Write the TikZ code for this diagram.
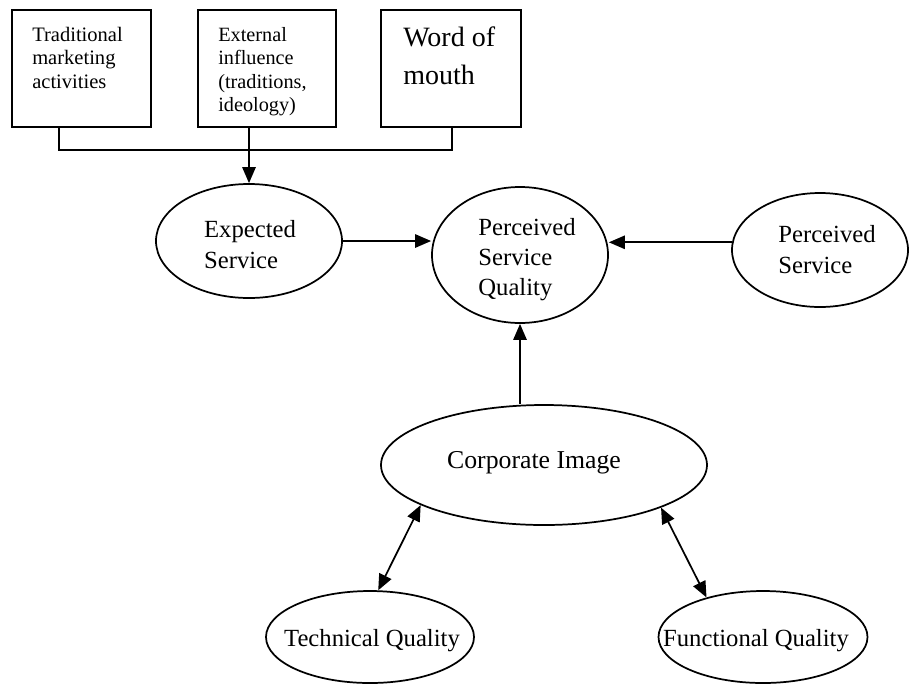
\documentclass[tikz,border=0pt]{standalone}
\usepackage{fontspec}
\setmainfont{Liberation Serif}
\usetikzlibrary{shapes.geometric,arrows.meta}

\tikzset{
  box/.style={draw, line width=1.3pt, inner sep=0pt, minimum width=#1},
  boxtext/.style={inner sep=0pt, anchor=north west, align=left},
  oval/.style={draw, ellipse, line width=1.3pt, inner sep=0pt},
  ovaltext/.style={inner sep=0pt, align=left, font=\fontsize{18.5}{23.2}\selectfont},
  wire/.style={line width=1.3pt},
  tip/.tip={Triangle[length=12pt,width=10pt]},
  arr/.style={wire, -tip},
  biarr/.style={wire, tip-tip},
}

\begin{document}
\begin{tikzpicture}[x=0.75pt, y=-0.75pt]
  \useasboundingbox (0,0) rectangle (909,683);

  % influence boxes
  \node[box=104.25pt, minimum height=87.75pt] (box1) at (81.5,68.5) {};
  \node[box=103.5pt,  minimum height=87.75pt] (box2) at (267,68.5) {};
  \node[box=105pt,    minimum height=87.75pt] (box3) at (451,68.5) {};

  \node[boxtext, font=\fontsize{15.4}{17.6}\selectfont] (t1) at (32,27)
    {Traditional\\marketing\\activities};
  \node[boxtext, font=\fontsize{15.2}{17.6}\selectfont] (t2) at (218,27)
    {External\\influence\\(traditions,\\ideology)};
  \node[boxtext, font=\fontsize{21}{28.5}\selectfont] (t3) at (403,27)
    {Word of\\mouth};

  % ovals
  \node[oval, minimum width=139.5pt, minimum height=85.5pt] (exp) at (249,241) {};
  \node[oval, minimum width=132pt,   minimum height=102pt]  (psq) at (520,255) {};
  \node[oval, minimum width=132pt,   minimum height=85.5pt] (ps)  at (820,250) {};
  \node[oval, minimum width=244.5pt, minimum height=90pt]   (ci)  at (544,465) {};
  \node[oval, minimum width=156pt,   minimum height=69pt]   (tq)  at (370,637) {};
  \node[oval, minimum width=156.75pt,minimum height=69pt]   (fq)  at (763,637) {};

  % oval labels
  \node[ovaltext] (exp-t) at (250,245) {Expected\\Service};
  \node[ovaltext, font=\fontsize{18.5}{22.5}\selectfont] (psq-t) at (527,260)
    {Perceived\\Service\\Quality};
  \node[ovaltext] (ps-t)  at (827,250) {Perceived\\Service};
  \node[ovaltext, font=\fontsize{19.3}{23}\selectfont] (ci-t) at (534,463) {Corporate Image};
  \node[ovaltext] (tq-t)  at (372,641) {Technical Quality};
  \node[ovaltext] (fq-t)  at (756,641) {Functional Quality};

  % collecting line below the boxes
  \coordinate (b1) at (59,150);
  \coordinate (b2) at (249,150);
  \coordinate (b3) at (452,150);
  \draw[wire] (b1 |- box1.south) -- (b1) -- (b3) -- (b3 |- box3.south);
  \draw[arr] (b2 |- box2.south) -- (exp.north);

  % links into perceived service quality
  \draw[arr] (exp.east) -- (exp.east -| psq.west);
  \draw[arr] (ps.175) -- (ps.175 -| psq.east);
  \draw[arr] (psq.south |- ci.north) -- (psq.south);

  % corporate image links
  \draw[biarr] (tq.80) -- (ci.198);
  \draw[biarr] (fq.145) -- (ci.340);
\end{tikzpicture}
\end{document}
